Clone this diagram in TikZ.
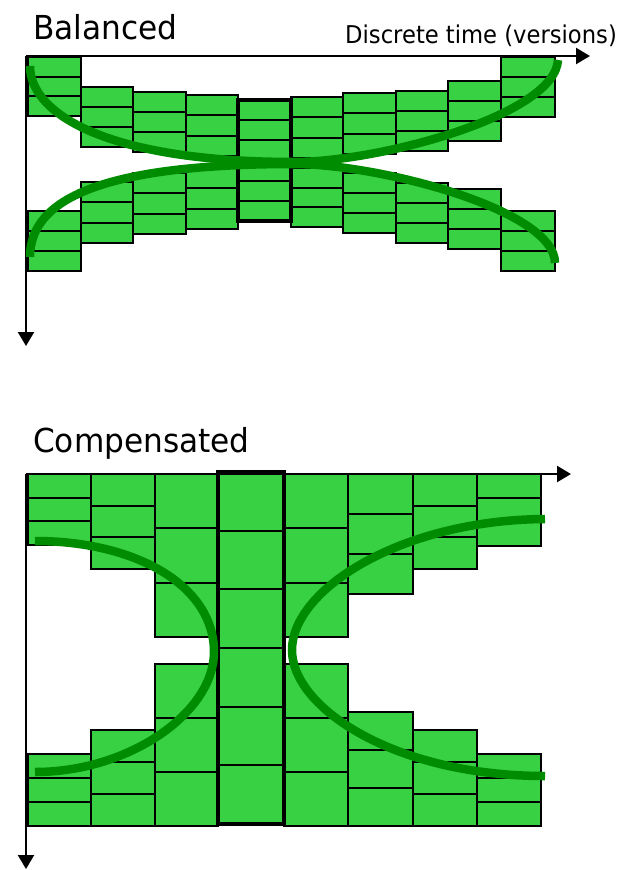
\documentclass[tikz,border=0pt]{standalone}
\usepackage{fontspec}
\usetikzlibrary{arrows.meta}
\newfontfamily\dvs{DejaVu Sans}
\definecolor{boxgreen}{RGB}{56,209,68}
\definecolor{curvegreen}{RGB}{0,140,0}
\newcommand{\cellstack}[5]{%
  \pgfmathsetmacro{\stkh}{(#4-#3)/#5}%
  \fill[boxgreen] (#1,#3) rectangle (#2,#4);
  \foreach \k in {1,...,#5}{%
    \draw[cellline] (#1,{#3+(\k-1)*\stkh}) rectangle (#2,{#3+\k*\stkh});
  }%
}
\tikzset{
  cellline/.style={draw=black, line width=2pt},
  hibox/.style={draw=black, line width=4.5pt},
  axisline/.style={draw=black, line width=2.4pt, -{Triangle[length=14pt,width=16pt]}},
  trend/.style={draw=curvegreen, line width=8.5pt},
  bigtitle/.style={anchor=base west, inner sep=0pt, font=\dvs\fontsize{33}{40}\selectfont},
  smalltitle/.style={anchor=base west, inner sep=0pt, font=\dvs\fontsize{24.5}{30}\selectfont}
}
\begin{document}
\begin{tikzpicture}[x=1pt,y=-1pt]
\useasboundingbox (0,0) rectangle (625,870);
\fill[white] (0,0) rectangle (625,870);

% ---------- Balanced ----------
\node[bigtitle] (tbal) at (33,39) {\scalebox{0.945}[1]{Balanced}};
\node[smalltitle] (ttime) at (345,43) {\scalebox{0.925}[1]{Discrete time (versions)}};

\foreach \a/\b/\c/\d/\n in {
  28/81/57/116/3, 81/133/87/147/3, 133/186/92/152/3, 186/238/95/156/3,
  291/343/97/158/3, 343/396/93/154/3, 396/448/91/151/3, 448/501/81/141/3, 501/555/57/117/3,
  28/81/211/271/3, 81/133/182/243/3, 133/186/173/234/3, 186/238/168/229/3,
  291/343/168/227/3, 343/396/173/233/3, 396/448/183/243/3, 448/501/189/249/3, 501/555/211/271/3}{
  \cellstack{\a}{\b}{\c}{\d}{\n}
}
\cellstack{238}{291}{100}{221}{6}
\draw[hibox] (238,100) rectangle (291,221);

\coordinate (bO) at (26,56);
\coordinate (bX) at (590,56);
\coordinate (bY) at (26,346);
\draw[axisline] (bO) -- (bX);
\draw[axisline] (bO) -- (bY);

\draw[trend] (30,66) .. controls (30,115) and (110,162) .. (294,162)
  .. controls (380,162) and (555,115) .. (558,60);
\draw[trend] (30,257) .. controls (30,200) and (100,164) .. (294,164)
  .. controls (380,164) and (555,210) .. (555,263);

% ---------- Compensated ----------
\node[bigtitle] (tcomp) at (33,452) {\scalebox{0.945}[1]{Compensated}};

\foreach \a/\b/\c/\d/\n in {
  28/91/474/545/3, 91/155/474/569/3, 155/218/474/637/3,
  284/348/474/637/3, 348/413/474/594/3, 413/477/474/569/3, 477/541/474/546/3,
  28/91/754/826/3, 91/155/730/826/3, 155/218/664/826/3,
  284/348/664/826/3, 348/413/712/826/3, 413/477/730/826/3, 477/541/754/826/3}{
  \cellstack{\a}{\b}{\c}{\d}{\n}
}
\cellstack{218}{284}{472}{824}{6}
\draw[hibox] (218,472) rectangle (284,824);

\coordinate (cO) at (26,474);
\coordinate (cX) at (571,474);
\coordinate (cY) at (26,869);
\draw[axisline] (cO) -- (cX);
\draw[axisline] (cO) -- (cY);

\draw[trend] (35,541) .. controls (135,541) and (214,585) .. (214,652)
  .. controls (214,712) and (130,772) .. (35,772);
\draw[trend] (545,519) .. controls (400,520) and (292,590) .. (292,650)
  .. controls (292,708) and (395,776) .. (545,776);
\end{tikzpicture}
\end{document}
